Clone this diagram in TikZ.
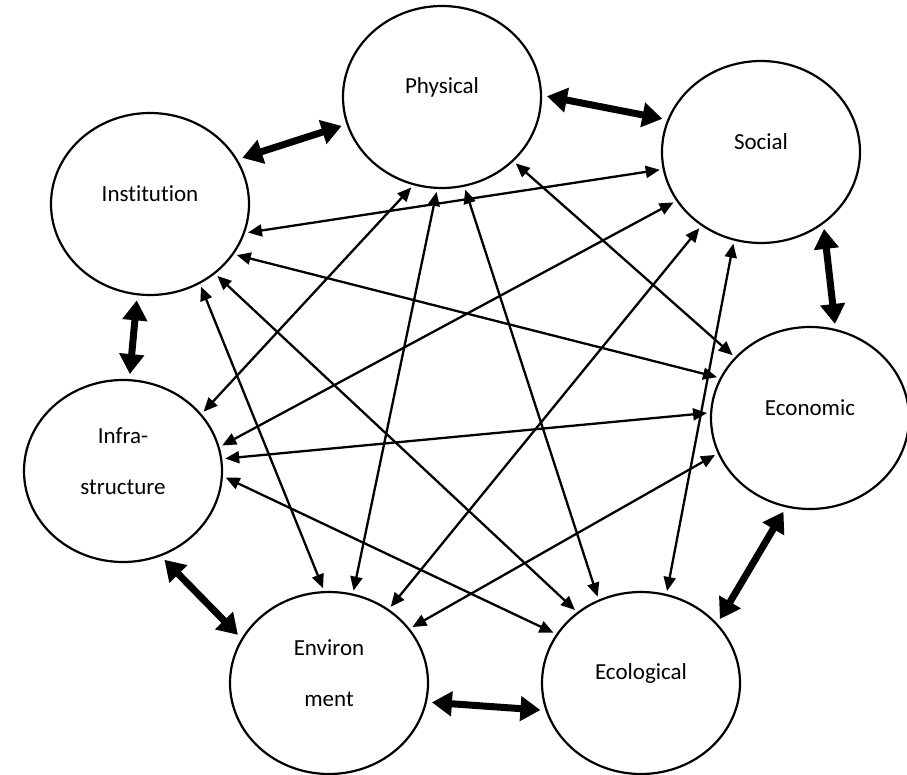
\documentclass[tikz,border=0pt]{standalone}
\usepackage{fontspec}
\setmainfont[Ligatures=NoCommon]{Carlito}
\usetikzlibrary{shapes.geometric,arrows.meta}
\tikzset{
  ring/.style={draw, ellipse, line width=2.2pt, minimum width=198pt, minimum height=182pt},
  lbl/.style={font=\fontsize{23}{51}\selectfont, align=center},
  duo/.style={line width=2.3pt, {Triangle[length=14pt,width=12pt]}-{Triangle[length=14pt,width=12pt]}, shorten <=3pt, shorten >=3pt},
  bigduo/.style={line width=7pt, {Triangle[length=20pt,width=24pt]}-{Triangle[length=20pt,width=24pt]}, shorten <=5pt, shorten >=5pt},
}
\begin{document}
\begin{tikzpicture}[x=1pt,y=-1pt]
    \useasboundingbox (0,0) rectangle (907,775);
    % the seven circles
    \node[ring] (phys) at (442,97) {};
    \node[ring] (soc) at (761,152) {};
    \node[ring] (econ) at (810,418) {};
    \node[ring] (ecol) at (641,683) {};
    \node[ring] (env) at (329,683) {};
    \node[ring] (infra) at (123,471) {};
    \node[ring] (inst) at (150,204) {};
    % names
    \node[lbl] (physT) at (442,87) {Physical};
    \node[lbl] (socT) at (761,142) {Social};
    \node[lbl] (econT) at (810,408) {Economic};
    \node[lbl] (ecolT) at (641,673) {Ecological};
    \node[lbl] (envT) at (329,673) {Environ\\ment};
    \node[lbl] (infraT) at (123,461) {Infra-\\structure};
    \node[lbl] (instT) at (150,194) {Institution};
    % neighbours in the ring
    \foreach \a/\i/\b/\j in {inst/27/phys/196, phys/1/soc/161, soc/-49/econ/74, inst/-98/infra/86, infra/-66/env/153, env/-11/ecol/-164, ecol/38/econ/-105}
    \draw[bigduo] (\a.\i) -- (\b.\j);
    % all the other pairs
    \foreach \a/\i/\b/\j in {phys/-42/econ/141, phys/-76/ecol/117, phys/-93/env/75, phys/-108/infra/36, soc/-107/ecol/74, soc/-129/env/51, soc/-150/infra/14, soc/-170/inst/-17, econ/-159/env/34, econ/177/infra/7, econ/156/inst/-31, ecol/132/inst/-47, ecol/150/infra/-3, env/93/inst/-58}
    \draw[duo] (\a.\i) -- (\b.\j);
\end{tikzpicture}
\end{document}
